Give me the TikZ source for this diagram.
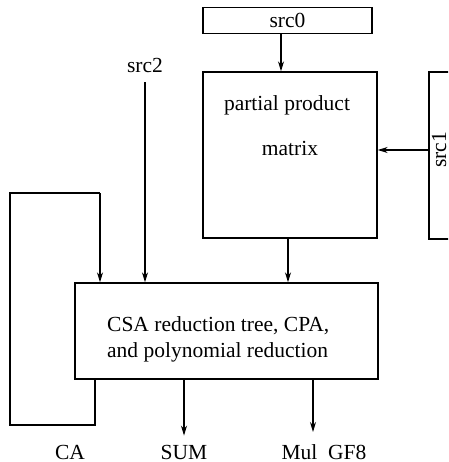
\documentclass[tikz,border=0pt]{standalone}
\usepackage{fontspec}
\setmainfont{Liberation Serif}
\usetikzlibrary{arrows.meta}
\begin{document}
\begin{tikzpicture}[x=1pt,y=-1pt,
  box/.style={draw,line width=1.4pt,inner sep=0pt},
  lbl/.style={font=\fontsize{21.5}{26}\selectfont,inner sep=0pt},
  arr/.style={line width=1.1pt,-{Stealth[length=10pt,width=6pt]}},
  wire/.style={line width=1.1pt}]
\useasboundingbox (0,0) rectangle (448,462);
\begin{scope}
\clip (0,0) rectangle (448,462);
% boxes
\node[box,minimum width=169pt,minimum height=26pt] (src0) at (287.5,20.5) {};
\node[lbl] at (src0.center) {src0};
\node[box,minimum width=174pt,minimum height=166pt] (pp) at (290,155) {};
\node[lbl] at (287,105) {partial product};
\node[lbl] at (290,148) {matrix};
\node[box,minimum width=60pt,minimum height=167pt] (src1) at (459,155.5) {};
\end{scope}
\node[lbl,rotate=90,anchor=south] at (446.5,150) {src1};
\node[box,minimum width=303pt,minimum height=96pt] (csa) at (226.5,331) {};
\node[lbl,anchor=base west] at (107,331) {CSA reduction tree, CPA,};
\node[lbl,anchor=base west] at (107,357) {and polynomial reduction};
% labels
\node[lbl] (src2) at (145,65) {src2};
\node[lbl] (ca) at (70,452) {CA};
\node[lbl] (sum) at (184,452) {SUM};
\node[lbl] (mul) at (324,452) {Mul\ \ GF8};
% connectors
\draw[arr] (src0.south -| 281,0) -- (pp.north -| 281,0);
\draw[arr] (src1.west |- 0,150) -- (pp.east |- 0,150);
\draw[arr] (pp.south -| 288,0) -- (csa.north -| 288,0);
\draw[arr] ([yshift=-10pt]src2.south) -- (csa.north -| src2.south);
\coordinate (fb1) at (95,425);
\coordinate (fb2) at (10,425);
\coordinate (fb3) at (10,193);
\coordinate (fb4) at (100,193);
\draw[wire] (csa.south -| fb1) -- (fb1) -- (fb2) -- (fb3) -- (fb4);
\draw[arr] (fb4) -- (csa.north -| fb4);
\draw[arr] (csa.south -| sum.north) -- ([yshift=9pt]sum.north);
\draw[arr] (csa.south -| 313,0) -- (313,432);
\end{tikzpicture}
\end{document}
